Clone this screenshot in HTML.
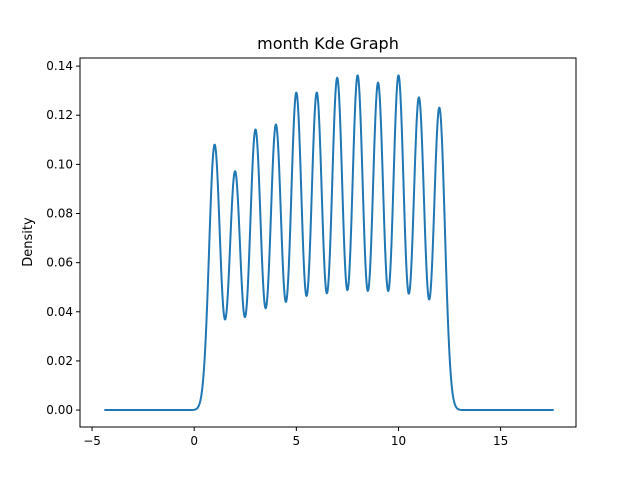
<!DOCTYPE html>
<html><head><meta charset="utf-8"><style>
body{margin:0;background:#fff;}
svg text{font-family:"DejaVu Sans","Liberation Sans",sans-serif;fill:#000;}
</style></head><body>
<svg id="chart" width="640" height="480" xmlns="http://www.w3.org/2000/svg">
<rect width="640" height="480" fill="#fff"/>
<text x="328" y="49" font-size="16" text-anchor="middle">month Kde Graph</text>
<text x="0" y="0" font-size="13" text-anchor="middle" transform="translate(32,242) rotate(-90)">Density</text>
<g id="xticks"></g><g id="yticks"></g>
<path id="curve" fill="none" stroke="#1f77b4" stroke-width="2" stroke-linejoin="round"/>
<rect x="80" y="58" width="496" height="369" fill="none" stroke="#000" stroke-width="1"/>
</svg>
<script>
const months = [1,2,3,4,5,6,7,8,9,10,11,12];
const peakDensity = [0.108,0.097,0.114,0.116,0.129,0.129,0.135,0.136,0.133,0.136,0.127,0.123];
const xTicks = [-5,0,5,10,15];
const yTicks = [0.00,0.02,0.04,0.06,0.08,0.10,0.12,0.14];
const xMin=-5.59, xMax=18.69, yMin=-0.0069, yMax=0.1433;
const L=80,R=576,T=58,B=427;
const sx=v=>L+(v-xMin)/(xMax-xMin)*(R-L);
const sy=v=>B-(v-yMin)/(yMax-yMin)*(B-T);
const NS="http://www.w3.org/2000/svg";
const s=0.27;
function dens(x){let d=0;for(let i=0;i<months.length;i++){d+=peakDensity[i]*Math.exp(-((x-months[i])**2)/(2*s*s));}return d;}
let p="";const x0=-4.4,x1=17.6,n=1000;
for(let i=0;i<=n;i++){const x=x0+(x1-x0)*i/n;p+=(i?"L":"M")+sx(x).toFixed(2)+","+sy(dens(x)).toFixed(2);}
document.getElementById("curve").setAttribute("d",p);
const xg=document.getElementById("xticks"),yg=document.getElementById("yticks");
xTicks.forEach(v=>{const x=sx(v);
const l=document.createElementNS(NS,"line");


l.setAttribute("x1",x);l.setAttribute("x2",x);l.setAttribute("y1",B);l.setAttribute("y2",B+4);l.setAttribute("stroke","#000");xg.appendChild(l);
const t=document.createElementNS(NS,"text");


t.setAttribute("x",x);t.setAttribute("y",B+18);t.setAttribute("font-size","12");t.setAttribute("text-anchor","middle");t.textContent=v<0?"\u2212"+(-v):v;xg.appendChild(t);});
yTicks.forEach(v=>{const y=sy(v);
const l=document.createElementNS(NS,"line");


l.setAttribute("x1",L-4);l.setAttribute("x2",L);l.setAttribute("y1",y);l.setAttribute("y2",y);l.setAttribute("stroke","#000");yg.appendChild(l);
const t=document.createElementNS(NS,"text");


t.setAttribute("x",L-7);t.setAttribute("y",y+4);t.setAttribute("font-size","12");t.setAttribute("text-anchor","end");t.textContent=v.toFixed(2);yg.appendChild(t);});
</script>
</body></html>
